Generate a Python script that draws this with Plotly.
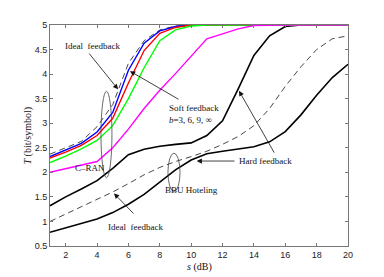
import plotly.graph_objects as go

snr_db = list(range(1, 21))

# C-RAN curves
cran_ideal = [2.37, 2.50, 2.63, 2.93, 3.38, 4.22, 4.68, 4.90, 4.98, 5.0, 5.0, 5.0, 5.0, 5.0, 5.0, 5.0, 5.0, 5.0, 5.0, 5.0]
cran_b_inf = [2.32, 2.45, 2.59, 2.82, 3.22, 4.08, 4.63, 4.88, 4.97, 5.0, 5.0, 5.0, 5.0, 5.0, 5.0, 5.0, 5.0, 5.0, 5.0, 5.0]
cran_b9 = [2.29, 2.41, 2.55, 2.75, 3.10, 3.82, 4.48, 4.83, 4.95, 5.0, 5.0, 5.0, 5.0, 5.0, 5.0, 5.0, 5.0, 5.0, 5.0, 5.0]
cran_b6 = [2.20, 2.33, 2.48, 2.65, 2.95, 3.50, 4.13, 4.68, 4.90, 4.98, 5.0, 5.0, 5.0, 5.0, 5.0, 5.0, 5.0, 5.0, 5.0, 5.0]
cran_b3 = [2.00, 2.07, 2.14, 2.22, 2.50, 2.88, 3.30, 3.67, 4.01, 4.36, 4.72, 4.82, 4.92, 4.99, 5.0, 5.0, 5.0, 5.0, 5.0, 5.0]
cran_hard = [1.32, 1.50, 1.66, 1.83, 2.08, 2.36, 2.47, 2.53, 2.57, 2.60, 2.75, 3.05, 3.70, 4.38, 4.78, 4.97, 5.0, 5.0, 5.0, 5.0]

# BBU Hoteling curves
bbu_ideal = [1.00, 1.15, 1.30, 1.45, 1.60, 1.77, 1.95, 2.10, 2.22, 2.32, 2.43, 2.57, 2.73, 2.95, 3.30, 3.75, 4.15, 4.50, 4.72, 4.78]
bbu_hard = [0.78, 0.87, 0.96, 1.05, 1.18, 1.35, 1.55, 1.80, 2.05, 2.25, 2.38, 2.43, 2.47, 2.52, 2.62, 2.83, 3.17, 3.57, 3.93, 4.20]

x_ticks = list(range(2, 21, 2))
y_ticks = [0.5, 1, 1.5, 2, 2.5, 3, 3.5, 4, 4.5, 5]

fig = go.Figure()

def add(y, color, width=1.5, dash="solid"):
    fig.add_trace(go.Scatter(x=snr_db, y=y, mode="lines",
                             line=dict(color=color, width=width, dash=dash),
                             showlegend=False, hoverinfo="skip"))

add(bbu_hard, "black", 1.6)
add(cran_hard, "black", 1.6)
add(bbu_ideal, "#333333", 0.9, "6px,4px")
add(cran_ideal, "#333333", 0.9, "6px,4px")
add(cran_b_inf, "#0000ff", 1.4)
add(cran_b9, "#ff0000", 1.4)
add(cran_b6, "#00ff00", 1.4)
add(cran_b3, "#ff00ff", 1.4)

serif = "Liberation Serif"
afont = dict(family=serif, size=9, color="#111111")

annos = [
    dict(x=3.71, y=4.57, text="Ideal&nbsp;&nbsp;feedback", showarrow=False),
    dict(x=5.34, y=3.69, ax=3.42, ay=4.45, text="", showarrow=True),
    dict(x=8.44, y=3.19, text="Soft feedback<br><i>b</i>=3, 6, 9, ∞", showarrow=False,
         xanchor="left", align="left"),
    dict(x=6.1, y=4.06, ax=9.29, ay=3.47, text="", showarrow=True),
    dict(x=3.55, y=2.09, text="C–RAN", showarrow=False),
    dict(x=9.99, y=1.65, text="BBU Hoteling", showarrow=False),
    dict(x=14.74, y=2.23, text="Hard feedback", showarrow=False),
    dict(x=10.35, y=2.23, ax=12.86, ay=2.23, text="", showarrow=True),
    dict(x=13.05, y=3.66, ax=15.35, ay=2.37, text="", showarrow=True),
    dict(x=6.42, y=0.89, text="Ideal&nbsp;&nbsp;feedback", showarrow=False),
    dict(x=5.08, y=1.57, ax=6.42, ay=1.13, text="", showarrow=True),
]
for a in annos:
    a.update(xref="x", yref="y", font=afont)
    if a.get("showarrow"):
        a.update(axref="x", ayref="y", arrowhead=2, arrowsize=1.3,
                 arrowwidth=0.8, arrowcolor="#111111", standoff=0, startstandoff=0)
    fig.add_annotation(**a)

# axis titles
fig.add_annotation(xref="paper", yref="paper", x=-0.074, y=0.5, textangle=-90,
                   xanchor="center", yanchor="middle",
                   text="<i>T</i> (bit/symbol)", showarrow=False,
                   font=dict(family=serif, size=10, color="#111111"))
fig.add_annotation(xref="paper", yref="paper", x=0.5, y=-0.095,
                   xanchor="center", yanchor="middle",
                   text="<i>s</i> (dB)", showarrow=False,
                   font=dict(family=serif, size=10, color="#111111"))

# ellipses
fig.add_shape(type="circle", xref="x", yref="y", x0=4.25, x1=4.95, y0=1.89, y1=3.65,
              line=dict(color="#444444", width=0.8))
fig.add_shape(type="circle", xref="x", yref="y", x0=8.52, x1=9.29, y0=1.61, y1=2.39,
              line=dict(color="#444444", width=0.8))

axis_common = dict(showline=True, linecolor="#777777", linewidth=1, mirror="ticks",
                   ticks="inside", ticklen=3, tickcolor="#777777", showgrid=False,
                   zeroline=False, tickfont=dict(family="Liberation Sans", size=9, color="#222222"))

fig.update_xaxes(range=[1, 20], tickvals=x_ticks, ticktext=[str(t) for t in x_ticks], **axis_common)
fig.update_yaxes(range=[0.5, 5], tickvals=y_ticks, ticktext=[f"{t:g}" for t in y_ticks], **axis_common)

# page body has an 8px default margin; compensate so the plot area sits where the reference has it
fig.update_layout(width=376, height=269, margin=dict(l=42, r=36, t=13, b=31),
                  paper_bgcolor="white", plot_bgcolor="white")

fig.write_html("out.html")
